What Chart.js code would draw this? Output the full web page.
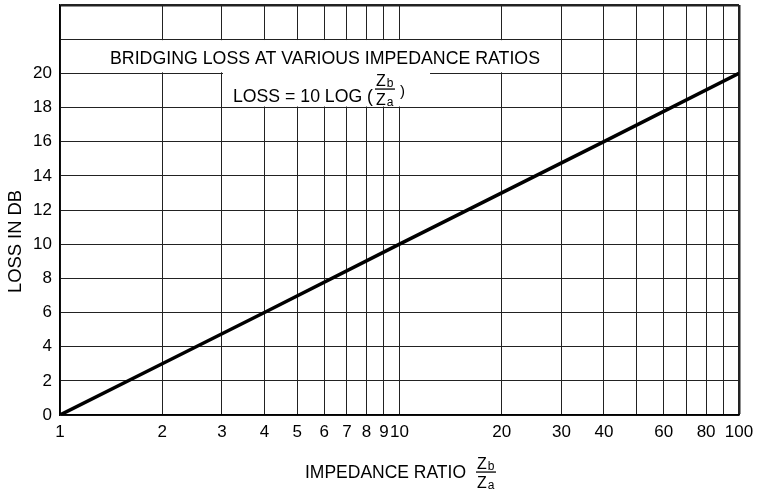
<!DOCTYPE html>
<html>
<head>
<meta charset="utf-8">
<script src="https://cdn.jsdelivr.net/npm/chart.js@4"></script>
<style>
  html, body { margin: 0; padding: 0; background: #fff; }
  canvas { display: block; }
</style>
</head>
<body>
<canvas id="lossChart" width="759" height="493"></canvas>
<script>
// Bridging loss vs impedance ratio (log x axis)
const ratioValues = [1, 2, 4, 10, 40, 100];        // impedance ratio Zb/Za
const lossValues = [0, 3, 6, 10, 16, 20];           // loss in dB
const gridRatios = [1, 2, 3, 4, 5, 6, 7, 8, 9, 10, 20, 30, 40, 50, 60, 70, 80, 90, 100];
const ratioLabels = ['1', '2', '3', '4', '5', '6', '7', '8', '9', '10', '20', '30', '40', '', '60', '', '80', '', '100'];
const lossTicks = [0, 2, 4, 6, 8, 10, 12, 14, 16, 18, 20, 22, 24];
const lossLabels = ['0', '2', '4', '6', '8', '10', '12', '14', '16', '18', '20', '', ''];

const FONT = '"Liberation Sans", Arial, sans-serif';

// draw text squeezed/stretched to a given width (lettering is condensed)
function fitText(ctx, str, x, y, size, width, align) {
    ctx.save();
    ctx.font = size + 'px ' + FONT;
    ctx.textBaseline = 'alphabetic';
    ctx.textAlign = 'left';
    const w = ctx.measureText(str).width;
    const sx = width / w;
    let left = x;
    if (align === 'center') left = x - width / 2;
    if (align === 'right') left = x - width;
    ctx.translate(left, y);
    ctx.scale(sx, 1);
    ctx.fillText(str, 0, 0);
    ctx.restore();
}

// Z_b over Z_a, bar at barY, left edge at x
function drawFraction(ctx, x, barY, size) {
    ctx.save();
    ctx.fillStyle = '#000';
    ctx.font = size + 'px ' + FONT;
    ctx.textBaseline = 'alphabetic';
    ctx.textAlign = 'left';
    const cap = size * 0.72;
    ctx.fillText('Z', x, barY - 3);
    ctx.fillText('Z', x, barY + 4 + cap);
    const zw = ctx.measureText('Z').width;
    ctx.font = (size * 0.75) + 'px ' + FONT;
    ctx.fillText('b', x + zw + 1, barY - 2);
    ctx.fillText('a', x + zw + 1, barY + 5 + cap);
    ctx.fillRect(x - 1, barY - 0.6, zw + size * 0.75 * 0.6 + 3, 1.3);
    ctx.restore();
}

const lettering = {
    id: 'lettering',
    beforeDatasetsDraw(chart) {
        const {ctx, chartArea: a, scales: {x, y}} = chart;
        const y22 = y.getPixelForValue(22), y20 = y.getPixelForValue(20), y18 = y.getPixelForValue(18);
        ctx.save();
        ctx.fillStyle = '#fff';
        // clear grid behind the heading and the formula
        ctx.fillRect(a.left + 1.5, y22 + 1, x.getPixelForValue(28.5) - a.left - 1.5, y20 - y22 - 2);
        const x3 = x.getPixelForValue(3);
        ctx.fillRect(x3 + 1, y22 + 1, x.getPixelForValue(12.3) - x3 - 1, y18 - y22 - 2);
        ctx.restore();

        ctx.save();
        ctx.fillStyle = '#000';
        fitText(ctx, 'BRIDGING LOSS AT VARIOUS IMPEDANCE RATIOS', 110, 63.5, 18, 430, 'left');
        fitText(ctx, 'LOSS = 10 LOG (', 233, 101.5, 18, 140, 'left');
        drawFraction(ctx, 376, 89, 16);
        ctx.font = '15px ' + FONT;
        ctx.fillText(')', 400, 96);
        ctx.restore();
    },
    afterDraw(chart) {
        const {ctx} = chart;
        ctx.save();
        ctx.fillStyle = '#000';
        fitText(ctx, 'IMPEDANCE RATIO', 305, 477.5, 18, 161, 'left');
        drawFraction(ctx, 477, 472, 16);
        // y axis title, rotated
        ctx.translate(21, 241.5);
        ctx.rotate(-Math.PI / 2);
        fitText(ctx, 'LOSS IN DB', 0, 0, 18, 103, 'center');
        ctx.restore();
    }
};

new Chart(document.getElementById('lossChart'), {
    type: 'scatter',
    data: {
        datasets: [{
            data: ratioValues.map((r, i) => ({x: r, y: lossValues[i]})),
            showLine: true,
            borderColor: '#000',
            backgroundColor: '#000',
            borderWidth: 3.5,
            pointRadius: 0,
            tension: 0
        }]
    },
    options: {
        responsive: false,
        animation: false,
        layout: {padding: {left: 0, right: 20, top: 5, bottom: 0}},
        plugins: {legend: {display: false}, tooltip: {enabled: false}},
        scales: {
            x: {
                type: 'logarithmic',
                min: 1,
                max: 100,
                afterBuildTicks: s => { s.ticks = gridRatios.map(v => ({value: v})); },
                afterFit: s => { s.height = 78; s.paddingLeft = 0; s.paddingRight = 0; },
                ticks: {
                    autoSkip: false,
                    maxRotation: 0,
                    padding: 7,
                    color: '#000',
                    font: {family: FONT, size: 17},
                    callback: (v, i) => ratioLabels[i]
                },
                grid: {
                    color: '#222',
                    lineWidth: c => (c.tick && c.tick.value === 100 ? 2.5 : 1),
                    drawTicks: false
                },
                border: {color: '#000', width: 1.5}
            },
            y: {
                type: 'linear',
                min: 0,
                max: 24,
                afterBuildTicks: s => { s.ticks = lossTicks.map(v => ({value: v})); },
                afterFit: s => { s.width = 60; s.paddingTop = 0; s.paddingBottom = 0; },
                ticks: {
                    padding: 8,
                    color: '#000',
                    font: {family: FONT, size: 17},
                    callback: (v, i) => lossLabels[i]
                },
                grid: {
                    color: '#222',
                    lineWidth: c => (c.tick && c.tick.value === 24 ? 2.5 : 1),
                    drawTicks: false
                },
                border: {color: '#000', width: 1.5}
            }
        }
    },
    plugins: [lettering]
});
</script>
</body>
</html>
